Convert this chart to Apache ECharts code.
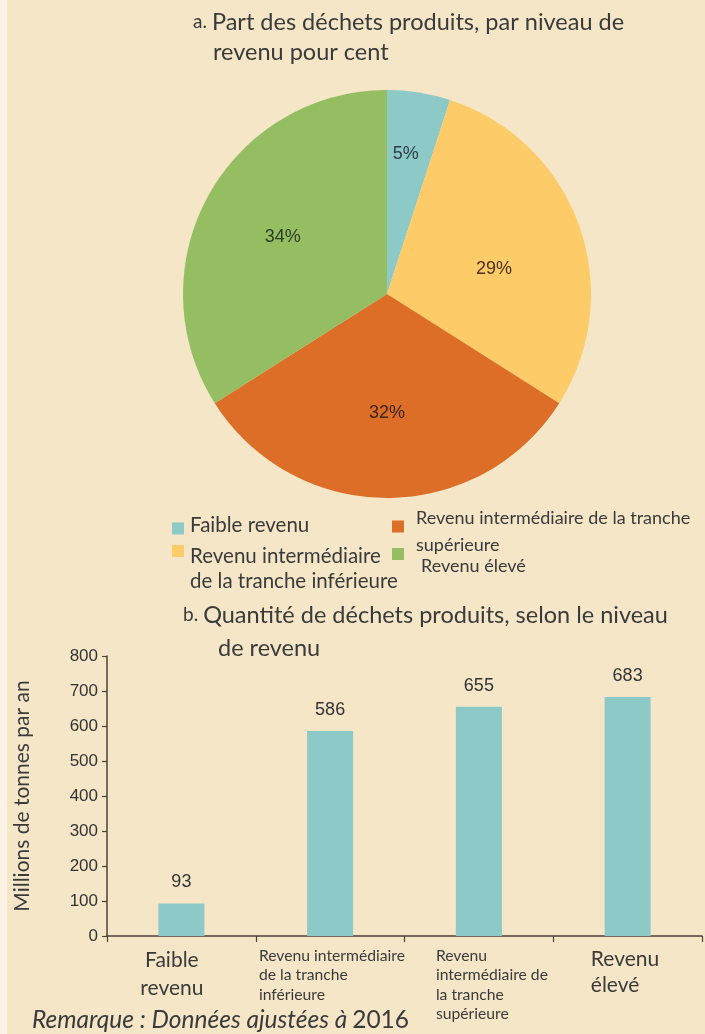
<!DOCTYPE html>
<html><head><meta charset="utf-8">
<script src="https://cdn.jsdelivr.net/npm/echarts@6/dist/echarts.min.js"></script>
<style>html,body{margin:0;padding:0;background:#F5E6C8}#c{width:705px;height:1034px}</style>
</head><body><div id="c"></div>
<script>
// ---- data ----
const categories = ['Faible revenu', 'Revenu intermédiaire de la tranche inférieure', 'Revenu intermédiaire de la tranche supérieure', 'Revenu élevé'];
const pieShares = [5, 29, 32, 34];
const barValues = [93, 586, 655, 683];
const legendText = ['Faible revenu', 'Revenu intermédiaire\nde la tranche inférieure', 'Revenu intermédiaire de la tranche\nsupérieure', 'Revenu élevé'];
const axisLabelText = ['Faible\nrevenu', 'Revenu intermédiaire\nde la tranche\ninférieure', 'Revenu\nintermédiaire de\nla tranche\nsupérieure', 'Revenu\nélevé'];
const yMin = 0, yMax = 800, yStep = 100;
const titleA = ['a.', 'Part des déchets produits, par niveau de', 'revenu pour cent'];
const titleB = ['b.', 'Quantité de déchets produits, selon le niveau', 'de revenu'];
const yAxisName = 'Millions de tonnes par an';
const noteText = ['Remarque : Données ajustées à', '2016'];

// ---- style ----
const colors = ['#8DC9C6', '#FDCC69', '#DD6E27', '#95BE62'];
const labelColors = ['#2c3f48', '#4a3214', '#3e2314', '#2e3d22'];
// label nudges: [left shift, down shift] in px
const labelShift = [[4, 4], [5, 15], [0, 0], [0, 0]];
const barColor = '#8DC9C6';
const txt = '#3a3a3a';
const axisCol = '#4d4035';
const hum = 'Lato, "Open Sans", sans-serif';
const num = '"Liberation Sans", Arial, sans-serif';

// legend layout: h0 = empty space above text, h1 = below, lh = line height
const legendLayout = [
  {left: 172, top: 515, size: 20.5, lh: 24, h0: 0, h1: 6, padL: 1},
  {left: 172, top: 508, size: 20.5, lh: 25, h0: 36, h1: 0, padL: 1},
  {left: 392, top: 494, size: 18, lh: 27, h0: 11, h1: 0, padL: 7},
  {left: 392, top: 531, size: 18, lh: 22, h0: 24, h1: 0, padL: 12}
];
const xRich = {
  c0: {fontSize: 21, lineHeight: 28, width: 66, align: 'center', padding: [0, 19, 0, 0]},
  c1: {fontSize: 15.7, lineHeight: 19.5, width: 150, align: 'left', padding: [0, 0, 0, 7.6]},
  c2: {fontSize: 15.7, lineHeight: 19.5, width: 116, align: 'left', padding: [0, 0, 0, 30]},
  c3: {fontSize: 21, lineHeight: 26, width: 70, align: 'left', padding: [0, 3.6, 0, 0]}
};
Object.values(xRich).forEach(r => { r.fontFamily = hum; r.color = txt; });

const pieCenter = [387, 294];
const pieData = categories.map((n, i) => ({name: n, value: pieShares[i], itemStyle: {color: colors[i]}}));
const pieLabel = (i, show) => {
  const [dx, dy] = labelShift[i];
  return {
    show, position: 'inside',
    formatter: (dy ? '{e| }\n' : '') + '{v|{c}%}',
    rich: {
      e: {fontSize: 1, lineHeight: dy * 2, height: dy * 2},
      v: {fontFamily: num, fontSize: 18, lineHeight: 20, color: labelColors[i], padding: [0, dx * 2, 0, 0]}
    }
  };
};

const chart = echarts.init(document.getElementById('c'), null, {renderer: 'canvas'});
chart.setOption({
  backgroundColor: '#F5E6C8',
  animation: false,
  graphic: [{type: 'rect', shape: {x: 0, y: 0, width: 7, height: 1034}, style: {fill: '#FBF2E3'}, silent: true}],
  title: [
    {left: 193, top: 10, padding: 0, text: `{s|${titleA[0]}} {m|${titleA[1]}}`, textStyle: {rich: {s: {fontFamily: hum, fontWeight: 'normal', fontSize: 19, color: txt}, m: {fontFamily: hum, fontWeight: 'normal', fontSize: 23.5, color: txt}}}},
    {left: 213, top: 40, padding: 0, text: titleA[2], textStyle: {fontFamily: hum, fontSize: 23.5, fontWeight: 'normal', color: txt}},
    {left: 183, top: 603, padding: 0, text: `{s|${titleB[0]}} {m|${titleB[1]}}`, textStyle: {rich: {s: {fontFamily: hum, fontWeight: 'normal', fontSize: 19, color: txt}, m: {fontFamily: hum, fontWeight: 'normal', fontSize: 23.5, color: txt}}}},
    {left: 218, top: 636, padding: 0, text: titleB[2], textStyle: {fontFamily: hum, fontSize: 23.5, fontWeight: 'normal', color: txt}},
    {left: 32, top: 1008, padding: 0, text: `{i|${noteText[0]}} {n|${noteText[1]}}`, textStyle: {rich: {i: {fontFamily: hum, fontWeight: 'normal', fontStyle: 'italic', fontSize: 24.5, color: txt}, n: {fontFamily: hum, fontWeight: 'normal', fontSize: 24.5, color: txt}}}}
  ],
  legend: categories.map((name, i) => {
    const L = legendLayout[i];
    return {
      data: [name], left: L.left, top: L.top, padding: 0,
      icon: 'rect', itemWidth: 12, itemHeight: 12, selectedMode: false,
      formatter: () => (L.h0 ? '{e| }\n' : '') + legendText[i].split('\n').map(l => `{t|${l}}`).join('\n') + (L.h1 ? '\n{f| }' : ''),
      textStyle: {rich: {
        t: {fontFamily: hum, fontSize: L.size, lineHeight: L.lh, color: txt, padding: [0, 0, 0, L.padL]},
        e: {fontSize: 1, lineHeight: L.h0, height: L.h0},
        f: {fontSize: 1, lineHeight: L.h1, height: L.h1}
      }}
    };
  }),
  grid: {left: 107, right: 3, top: 656, bottom: 98, containLabel: false},
  xAxis: {
    type: 'category', data: categories,
    axisLine: {lineStyle: {color: axisCol, width: 1.5}},
    axisTick: {show: true, length: 6, lineStyle: {color: axisCol, width: 1.2}},
    axisLabel: {interval: 0, margin: 10, rich: xRich,
      formatter: (v, i) => axisLabelText[i].split('\n').map(l => `{c${i}|${l}}`).join('\n')}
  },
  yAxis: {
    type: 'value', min: yMin, max: yMax, interval: yStep,
    name: yAxisName, nameLocation: 'middle', nameRotate: 90, nameGap: 74,
    nameTextStyle: {fontFamily: hum, fontSize: 21, color: txt},
    axisLine: {show: true, lineStyle: {color: axisCol, width: 1.5}},
    axisTick: {show: true, length: 5, lineStyle: {color: axisCol, width: 1.2}},
    splitLine: {show: false},
    axisLabel: {fontFamily: num, fontSize: 17, color: '#333', margin: 9}
  },
  series: [
    {type: 'pie', center: pieCenter, radius: [0, 204], startAngle: 90, clockwise: true,
     data: pieData, label: {show: false}, labelLine: {show: false}, silent: true, emphasis: {disabled: true}},
    {type: 'pie', center: pieCenter, radius: [0, 232], startAngle: 90, clockwise: true, silent: true, emphasis: {disabled: true},
     data: categories.map((n, i) => ({name: n, value: pieShares[i], itemStyle: {color: 'rgba(0,0,0,0)'}, label: pieLabel(i, i !== 0)})),
     itemStyle: {color: 'rgba(0,0,0,0)', borderWidth: 0}, labelLine: {show: false}},
    {type: 'pie', center: pieCenter, radius: [0, 286], startAngle: 90, clockwise: true, silent: true, emphasis: {disabled: true},
     data: categories.map((n, i) => ({name: n, value: pieShares[i], itemStyle: {color: 'rgba(0,0,0,0)'}, label: pieLabel(i, i === 0)})),
     itemStyle: {color: 'rgba(0,0,0,0)', borderWidth: 0}, labelLine: {show: false}},
    {type: 'bar', data: barValues, barWidth: 46, itemStyle: {color: barColor},
     label: {show: true, position: 'top', distance: 12, fontFamily: num, fontSize: 18, color: '#333'}}
  ]
});
</script></body></html>
